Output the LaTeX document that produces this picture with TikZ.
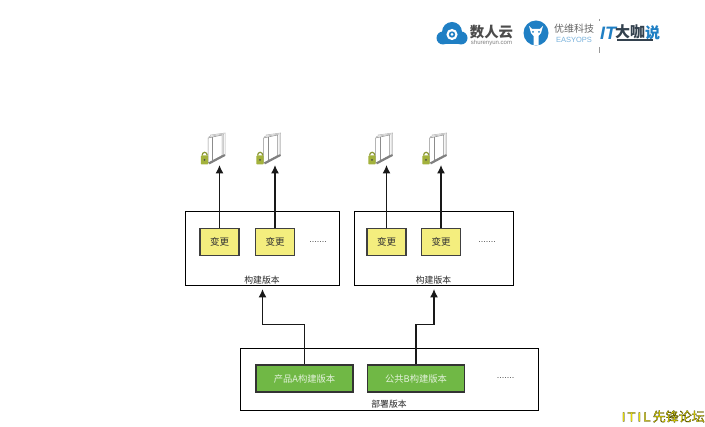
\documentclass[tikz,border=0pt]{standalone}
\usepackage{fontspec}
\setmainfont{Noto Sans CJK SC}
\newfontfamily\latinf{Liberation Sans}
\usetikzlibrary{arrows.meta}
\definecolor{boxyellow}{HTML}{F4EE7E}
\definecolor{boxgreen}{HTML}{70B845}
\definecolor{lockgreen}{HTML}{A3B23C}
\definecolor{logoblue}{HTML}{1F7FC4}
\definecolor{logodark}{HTML}{33414E}
\tikzset{
  x=1pt,y=-1pt,
  frame/.style={draw=black,line width=1pt,fill=white,inner sep=0pt,anchor=north west},
  change/.style={draw=black!75,line width=1.2pt,fill=boxyellow,minimum width=39pt,minimum height=27pt,inner sep=0pt,font=\fontsize{9.5}{10}\selectfont,text=black!80},
  build/.style={draw=black!80,line width=1.2pt,fill=boxgreen,minimum width=97pt,minimum height=27pt,inner sep=0pt,font=\fontsize{9.3}{10}\selectfont,text=white!80!boxgreen},
  caption/.style={font=\fontsize{8.8}{10}\selectfont,text=black!85,inner sep=0pt},
  dots/.style={font=\latinf\fontsize{9}{10}\selectfont,text=black!70,inner sep=0pt},
  link/.style={draw=black!90,line width=1.2pt,-{Latex[length=8.5pt,width=8pt]}},
  pics/server/.style={code={
    \draw[black!30,line width=.5pt,fill=white] (6,-23) -- (20.5,-25) -- (20.5,-3) -- (6,4) -- cycle;
    \draw[black!30,line width=.5pt,fill=white] (4.5,-21.5) -- (19,-24) -- (19,-3) -- (4.5,4.5) -- cycle;
    \draw[black!45,line width=.5pt,fill=white] (3.5,-20) -- (17.5,-23) -- (17.5,-2.5) -- (3.5,5) -- cycle;
    \draw[black!45,line width=.5pt] (8,-21) -- (8,2.5);
    \draw[black!50,line width=2pt] (4.5,5.5) -- (20.5,-3);
    \draw[lockgreen!85!black,line width=1.2pt] (-2.4,-2.5) arc[start angle=180,end angle=360,x radius=2.6,y radius=3.2];
    \fill[lockgreen,rounded corners=.8pt] (-3.7,-2.5) rectangle (3.7,6.5);
    \fill[black!70] (0,2) circle[radius=1];
  }}
}
\begin{document}
\begin{tikzpicture}
\useasboundingbox (0,0) rectangle (705,427);
\fill[white] (0,0) rectangle (705,427);

% logos
\fill[logoblue] (443,38) circle[radius=6.5] (452,32) circle[radius=10] (461,38) circle[radius=6.5];
\fill[logoblue] (442,36) rectangle (462,44.5);
\fill[white] (452,34.5) circle[radius=5.6];
\fill[logoblue] (452,34.5) circle[radius=3.2];
\fill[white] (452,34.5) circle[radius=1.5];
\node[inner sep=0pt,text=black!70,font=\bfseries\fontsize{14.4}{15}\selectfont] (brandA) at (491.5,32.5) {数人云};
\node[inner sep=0pt,text=black!50,font=\latinf\fontsize{6}{6}\selectfont] (brandAurl) at (491.5,42.5) {shurenyun.com};
\fill[logoblue] (536,33) circle[radius=12.5];
\fill[white] (529,26) -- (532,29) -- (540,29) -- (543,26) -- (541,33) -- (538.5,36) -- (538.5,45) -- (533.5,45) -- (533.5,36) -- (531,33) -- cycle;
\fill[logoblue] (533,32) circle[radius=1] (539,32) circle[radius=1];
\node[inner sep=0pt,text=black!60,font=\fontsize{10}{11}\selectfont] (brandB) at (574,29) {优维科技};
\node[inner sep=0pt,text=logoblue!60,font=\latinf\fontsize{7.5}{8}\selectfont] (brandBen) at (574,39.5) {EASYOPS};
\draw[black!40,line width=.6pt] (599,19) -- (599,21) (599,47) -- (599,53);
\node[inner sep=0pt,anchor=west,font=\latinf\bfseries\itshape\fontsize{18}{18}\selectfont,text=logoblue] (brandC) at (600,33.5) {IT};
\node[inner sep=0pt,anchor=west,font=\bfseries\fontsize{15}{15}\selectfont,text=logodark] (brandD) at (615,31.5) {大咖};
\node[inner sep=0pt,anchor=west,font=\bfseries\fontsize{15}{15}\selectfont,text=logoblue] (brandE) at (645,32.5) {说};
\fill[logodark] (617,39.5) rectangle (653,41.5);

% servers
\pic at (204.5,158) {server};
\pic at (260,158) {server};
\pic at (372,158) {server};
\pic at (426,158) {server};

% frames
\node[frame,minimum width=154pt,minimum height=74pt] (v1) at (185,211) {};
\node[frame,minimum width=159pt,minimum height=74pt] (v2) at (354,211) {};
\node[frame,minimum width=298pt,minimum height=62pt] (dep) at (240,348) {};

% yellow boxes
\node[change] (c1) at (219.5,242) {变更};
\node[change] (c2) at (275,242) {变更};
\node[change] (c3) at (386.5,242) {变更};
\node[change] (c4) at (441,242) {变更};

% green boxes
\node[build] (g1) at (304.5,378.5) {产品A构建版本};
\node[build] (g2) at (416,378.5) {公共B构建版本};

% captions and dots
\node[caption] (t1) at (262,280) {构建版本};
\node[caption] (t2) at (433.5,280) {构建版本};
\node[caption] (t3) at (389,404.5) {部署版本};
\node[dots] (d1) at (318,242.5) {.......};
\node[dots] (d2) at (487,242.5) {.......};
\node[dots] (d3) at (505.5,378.5) {.......};

% free ends at the server icons
\coordinate (s1) at (219.5,165);
\coordinate (s2) at (275,165);
\coordinate (s3) at (386.5,165);
\coordinate (s4) at (441,165);

\draw[link] (c1.north) -- (s1);
\draw[link] (c2.north) -- (s2);
\draw[link] (c3.north) -- (s3);
\draw[link] (c4.north) -- (s4);
\draw[link,shorten >=3pt] (g1.north) -- ++(0,-40) -| (v1.south);
\draw[link,shorten >=3pt] (g2.north) -- ++(0,-40) -| (v2.south);

% watermark
\node[inner sep=0pt,anchor=east,font=\fontsize{13}{14}\selectfont,text=black] (mark) at (705,416.5) {\special{pdf:code 1 0.95 0 rg 0.15 0.15 0 RG 2 Tr 0.22 w}\latinf I\,T\,I\,L\,\normalfont 先锋论坛};
\end{tikzpicture}
\end{document}
